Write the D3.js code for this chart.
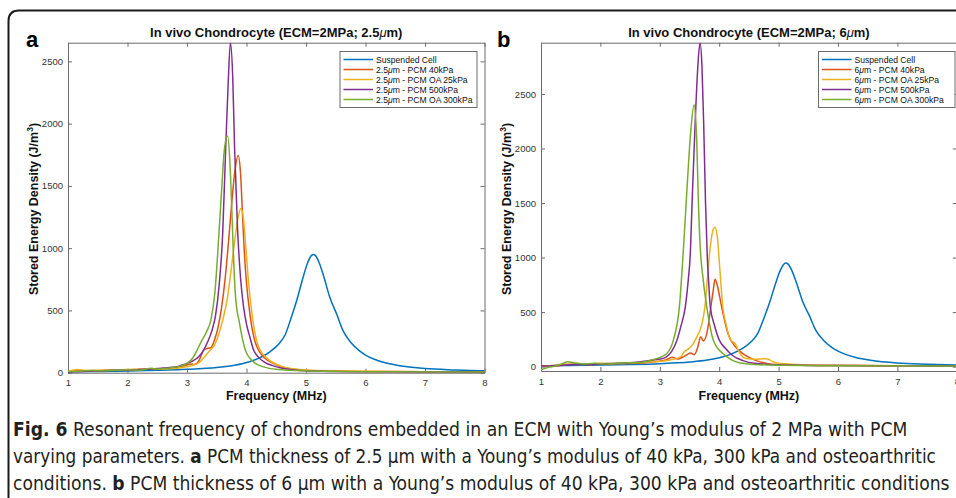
<!DOCTYPE html>
<html>
<head>
<meta charset="utf-8">
<script src="https://cdn.jsdelivr.net/npm/d3@7"></script>
<style>
  body { margin: 0; background: #fff; }
  svg { display: block; font-family: "Liberation Sans", Arial, Helvetica, sans-serif; }
</style>
</head>
<body>
<div id="fig"></div>
<script>
// ---- data ----
const seriesNames = ["Suspended Cell", "PCM 40kPa", "PCM OA 25kPa", "PCM 500kPa", "PCM OA 300kPa"];
const colors = ["#0072BD", "#D95319", "#EDB120", "#7E2F8E", "#77AC30"];
const xTicks = [1, 2, 3, 4, 5, 6, 7, 8];
const yTicks = [0, 500, 1000, 1500, 2000, 2500];

// suspended cell (same curve in both panels)
const suspF = [1.0, 1.5, 2.0, 2.5, 3.0, 3.5, 3.8, 4.05, 4.2, 4.4, 4.55, 4.65, 4.75, 4.85, 4.95, 5.03, 5.08, 5.12, 5.16, 5.22, 5.3, 5.4, 5.52, 5.62, 5.75, 5.9, 6.0, 6.15, 6.3, 6.55, 7.0, 7.5, 8.0];
const suspV = [8, 10, 14, 19, 27, 42, 60, 88, 115, 170, 235, 305, 440, 590, 765, 885, 935, 950, 940, 885, 770, 605, 465, 340, 245, 175, 142, 108, 84, 58, 33, 22, 15];

// panel a : 2.5um PCM
const a40F = [1.0, 1.2, 1.4, 1.6, 1.8, 2.0, 2.2, 2.4, 2.6, 2.8, 2.95, 3.06, 3.12, 3.2, 3.28, 3.34, 3.4, 3.46, 3.52, 3.58, 3.64, 3.7, 3.75, 3.8, 3.86, 3.9, 3.93, 3.96, 4.0, 4.05, 4.1, 4.15, 4.2, 4.3, 4.45, 4.6, 4.8, 5.0, 5.5, 6.0, 7.0, 8.0];
const a40V = [5, 15, 12, 18, 20, 22, 28, 30, 32, 40, 55, 70, 65, 95, 180, 195, 200, 260, 360, 520, 750, 1063, 1350, 1600, 1745, 1600, 1300, 1000, 720, 500, 340, 240, 182, 120, 75, 45, 28, 18, 12, 9, 7, 6];
const aOA25F = [1.0, 1.15, 1.3, 1.5, 1.8, 2.0, 2.3, 2.6, 2.9, 3.11, 3.2, 3.3, 3.39, 3.46, 3.52, 3.6, 3.68, 3.74, 3.8, 3.86, 3.91, 3.95, 3.99, 4.03, 4.08, 4.13, 4.18, 4.23, 4.32, 4.45, 4.6, 4.8, 5.0, 5.5, 6.0, 7.0, 8.0];
const aOA25V = [8, 25, 18, 20, 22, 25, 28, 30, 40, 62, 80, 130, 182, 220, 290, 420, 600, 820, 1050, 1250, 1320, 1230, 1000, 750, 520, 350, 240, 182, 125, 80, 50, 30, 22, 15, 12, 8, 6];
const a500F = [1.0, 1.2, 1.5, 1.8, 2.0, 2.2, 2.4, 2.6, 2.8, 2.92, 3.0, 3.1, 3.2, 3.28, 3.35, 3.42, 3.48, 3.54, 3.6, 3.65, 3.69, 3.73, 3.77, 3.8, 3.85, 3.9, 3.95, 4.0, 4.06, 4.12, 4.2, 4.3, 4.45, 4.6, 4.8, 5.0, 5.5, 6.0, 7.0, 8.0];
const a500V = [5, 8, 15, 20, 18, 25, 30, 38, 45, 62, 75, 95, 130, 182, 250, 340, 460, 700, 1120, 1800, 2300, 2650, 2350, 1800, 1150, 760, 530, 390, 280, 182, 125, 85, 55, 35, 22, 15, 10, 8, 6, 5];
const aOA300F = [1.0, 1.2, 1.4, 1.6, 1.8, 2.0, 2.2, 2.4, 2.5, 2.7, 2.9, 3.0, 3.1, 3.17, 3.25, 3.33, 3.4, 3.47, 3.53, 3.58, 3.63, 3.68, 3.72, 3.75, 3.78, 3.81, 3.84, 3.87, 3.92, 3.98, 4.05, 4.15, 4.3, 4.5, 5.0, 6.0, 8.0];
const aOA300V = [10, 12, 18, 15, 20, 22, 20, 35, 30, 38, 55, 75, 120, 182, 260, 330, 420, 650, 1063, 1450, 1800, 1900, 1700, 1350, 950, 650, 500, 430, 300, 182, 120, 75, 45, 28, 15, 8, 5];

// panel b : 6um PCM
const b40F = [1.0, 1.2, 1.4, 1.6, 1.8, 2.0, 2.3, 2.6, 2.9, 3.1, 3.21, 3.3, 3.4, 3.52, 3.58, 3.64, 3.69, 3.73, 3.79, 3.86, 3.9, 3.93, 3.97, 4.04, 4.1, 4.15, 4.26, 4.35, 4.45, 4.6, 4.8, 5.0, 6.0, 8.0];
const b40V = [10, 5, 15, 25, 20, 22, 28, 30, 45, 60, 86, 70, 90, 125, 110, 180, 275, 235, 300, 550, 700, 802, 740, 550, 400, 300, 190, 140, 100, 60, 30, 18, 10, 5];
const bOA25F = [1.0, 1.2, 1.4, 1.6, 1.8, 2.0, 2.3, 2.6, 2.9, 3.1, 3.25, 3.35, 3.42, 3.46, 3.55, 3.63, 3.68, 3.72, 3.76, 3.8, 3.85, 3.9, 3.93, 3.97, 4.01, 4.06, 4.12, 4.17, 4.22, 4.27, 4.32, 4.37, 4.45, 4.6, 4.75, 4.82, 4.9, 5.0, 5.5, 6.0, 7.0, 8.0];
const bOA25V = [5, 10, 25, 20, 25, 30, 28, 35, 45, 55, 70, 90, 140, 153, 200, 280, 337, 420, 550, 800, 1100, 1260, 1279, 1180, 900, 550, 380, 273, 230, 212, 150, 105, 75, 68, 72, 70, 45, 30, 15, 12, 8, 6];
const b500F = [1.0, 1.2, 1.4, 1.6, 1.8, 2.0, 2.3, 2.6, 2.8, 3.0, 3.1, 3.2, 3.29, 3.36, 3.43, 3.48, 3.51, 3.55, 3.6, 3.64, 3.677, 3.71, 3.74, 3.77, 3.8, 3.82, 3.85, 3.92, 4.0, 4.1, 4.23, 4.4, 4.6, 5.0, 6.0, 7.0, 8.0];
const b500V = [5, 8, 15, 20, 18, 25, 30, 40, 55, 70, 85, 140, 245, 380, 550, 800, 1000, 1600, 2300, 2750, 2970, 2750, 2200, 1500, 1000, 800, 550, 380, 245, 170, 100, 55, 30, 18, 10, 7, 5];
const bOA300F = [1.0, 1.1, 1.2, 1.3, 1.45, 1.55, 1.7, 1.9, 2.1, 2.3, 2.5, 2.7, 2.9, 3.0, 3.12, 3.23, 3.33, 3.4, 3.46, 3.52, 3.576, 3.62, 3.65, 3.68, 3.73, 3.79, 3.9, 4.06, 4.2, 4.34, 4.6, 5.0, 6.0, 8.0];
const bOA300V = [-30, -10, 0, 15, 45, 35, 25, 30, 25, 30, 35, 40, 65, 85, 120, 245, 550, 1100, 1650, 2150, 2400, 2100, 1500, 1100, 800, 550, 245, 120, 65, 35, 20, 12, 8, 5];

// ---- layout ----
const W = 956, H = 498;
const svg = d3.select("#fig").append("svg").attr("width", W).attr("height", H);

// rounded frame (top + left edge)
svg.append("path")
  .attr("d", "M956,10.5 L19,10.5 Q8.5,10.5 8.5,21 L8.5,498")
  .attr("fill", "none").attr("stroke", "#1a1a1a").attr("stroke-width", 2);

const panels = [
  { id: "a", label: "a", labelX: 26, x0: 68, x1: 484.5, y0: 372.7, y1: 42.7, yDom: [0, 2650],
    title: ["In vivo Chondrocyte (ECM=2MPa; 2.5", "m)"], prefix: "2.5",
    legX: 340, legW: 137, ylabX: 37.5,
    lines: [[suspF, suspV], [a40F, a40V], [aOA25F, aOA25V], [a500F, a500V], [aOA300F, aOA300V]] },
  { id: "b", label: "b", labelX: 497, x0: 541, x1: 956.8, y0: 371, y1: 42.7, yDom: [-40, 2970],
    title: ["In vivo Chondrocyte (ECM=2MPa; 6", "m)"], prefix: "6",
    legX: 818.5, legW: 136.5, ylabX: 511,
    lines: [[suspF, suspV], [b40F, b40V], [bOA25F, bOA25V], [b500F, b500V], [bOA300F, bOA300V]] }
];

panels.forEach(function (p) {
  const x = d3.scaleLinear().domain([1, 8]).range([p.x0, p.x1]);
  const y = d3.scaleLinear().domain(p.yDom).range([p.y0, p.y1]);
  const g = svg.append("g");

  g.append("clipPath").attr("id", "clip-" + p.id)
    .append("rect").attr("x", p.x0).attr("y", p.y1).attr("width", p.x1 - p.x0).attr("height", p.y0 - p.y1);

  // axes, MATLAB style: ticks inside, box on
  const axCol = "#6b6b6b";
  const bottom = g.append("g").attr("transform", "translate(0," + p.y0 + ")")
    .call(d3.axisBottom(x).tickValues(xTicks).tickFormat(d3.format("d")).tickSizeInner(-4).tickSizeOuter(0).tickPadding(7));
  const top = g.append("g").attr("transform", "translate(0," + p.y1 + ")")
    .call(d3.axisTop(x).tickValues(xTicks).tickFormat("").tickSizeInner(-4).tickSizeOuter(0));
  const left = g.append("g").attr("transform", "translate(" + p.x0 + ",0)")
    .call(d3.axisLeft(y).tickValues(yTicks).tickFormat(d3.format("d")).tickSizeInner(-4).tickSizeOuter(0).tickPadding(5));
  const right = g.append("g").attr("transform", "translate(" + p.x1 + ",0)")
    .call(d3.axisRight(y).tickValues(yTicks).tickFormat("").tickSizeInner(-4).tickSizeOuter(0));
  [bottom, top, left, right].forEach(function (a) {
    a.select(".domain").attr("stroke", axCol).attr("stroke-width", 1);
    a.selectAll(".tick line").attr("stroke", axCol);
    a.selectAll("text").attr("font-size", 9.5).attr("fill", "#333").attr("font-family", "'Liberation Sans', Arial, sans-serif");
  });

  // curves
  const line = d3.line().x(d => x(d[0])).y(d => y(d[1])).curve(d3.curveMonotoneX);
  const curves = g.append("g").attr("clip-path", "url(#clip-" + p.id + ")");
  p.lines.forEach(function (s, i) {
    const pts = s[0].map((f, k) => [f, s[1][k]]);
    curves.append("path").datum(pts)
      .attr("d", line).attr("fill", "none")
      .attr("stroke", colors[i]).attr("stroke-width", 1.5);
  });

  // title
  const t = g.append("text").attr("x", (p.x0 + p.x1) / 2).attr("y", 37)
    .attr("text-anchor", "middle").attr("font-weight", "bold").attr("font-size", 13).attr("fill", "#111");
  t.append("tspan").text(p.title[0]);
  t.append("tspan").attr("font-style", "italic").attr("font-weight", "normal").text("\u03bc");
  t.append("tspan").text(p.title[1]);

  // panel letter
  g.append("text").attr("x", p.labelX).attr("y", 47).attr("font-size", 22).attr("font-weight", "bold").text(p.label);

  // axis labels
  g.append("text").attr("x", (p.x0 + p.x1) / 2).attr("y", 400).attr("text-anchor", "middle")
    .attr("font-size", 12.5).attr("font-weight", "bold").attr("fill", "#111").text("Frequency (MHz)");
  const yl = g.append("text").attr("transform", "translate(" + p.ylabX + ",209) rotate(-90)")
    .attr("text-anchor", "middle").attr("font-size", 12.5).attr("font-weight", "bold").attr("fill", "#111");
  yl.append("tspan").text("Stored Energy Density (J/m");
  yl.append("tspan").attr("font-size", 8.5).attr("dy", -5).text("3");
  yl.append("tspan").attr("dy", 5).text(")");

  // legend
  const lg = g.append("g");
  lg.append("rect").attr("x", p.legX).attr("y", 51.5).attr("width", p.legW).attr("height", 56)
    .attr("fill", "#fff").attr("stroke", "#6b6b6b").attr("stroke-width", 1);
  seriesNames.forEach(function (n, i) {
    const ry = 59.5 + i * 10;
    lg.append("line").attr("x1", p.legX + 3.5).attr("x2", p.legX + 33).attr("y1", ry).attr("y2", ry)
      .attr("stroke", colors[i]).attr("stroke-width", 1.5);
    const tx = lg.append("text").attr("x", p.legX + 36).attr("y", ry + 3.2).attr("font-size", 8.6).attr("fill", "#111");
    if (i === 0) { tx.text(n); }
    else {
      tx.append("tspan").text(p.prefix);
      tx.append("tspan").attr("font-style", "italic").text("\u03bc");
      tx.append("tspan").text("m - " + n);
    }
  });
});

// caption: set in a condensed face, then squeezed to the measured line widths
const capFont = "'Liberation Sans Narrow', 'Arial Narrow', 'DejaVu Sans Condensed', sans-serif";
const caption = [
  { y: 436, len: 895, parts: [["Fig. 6", true], [" Resonant frequency of chondrons embedded in an ECM with Young\u2019s modulus of 2 MPa with PCM", false]] },
  { y: 463, len: 924, parts: [["varying parameters. ", false], ["a", true], [" PCM thickness of 2.5 \u03bcm with a Young\u2019s modulus of 40 kPa, 300 kPa and osteoarthritic", false]] },
  { y: 490, len: 937, parts: [["conditions. ", false], ["b", true], [" PCM thickness of 6 \u03bcm with a Young\u2019s modulus of 40 kPa, 300 kPa and osteoarthritic conditions", false]] }
];
caption.forEach(function (c) {
  const t = svg.append("text").attr("x", 0).attr("y", 0).attr("font-size", 20)
    .attr("font-family", capFont).attr("fill", "#231f20");
  c.parts.forEach(function (pt) {
    t.append("tspan").attr("font-weight", pt[1] ? "bold" : "normal").text(pt[0]);
  });
  const w = t.node().getComputedTextLength();
  const sx = w > 0 ? c.len / w : 1;
  t.attr("transform", "translate(13," + c.y + ") scale(" + sx + ",1)");
});
</script>
</body>
</html>
